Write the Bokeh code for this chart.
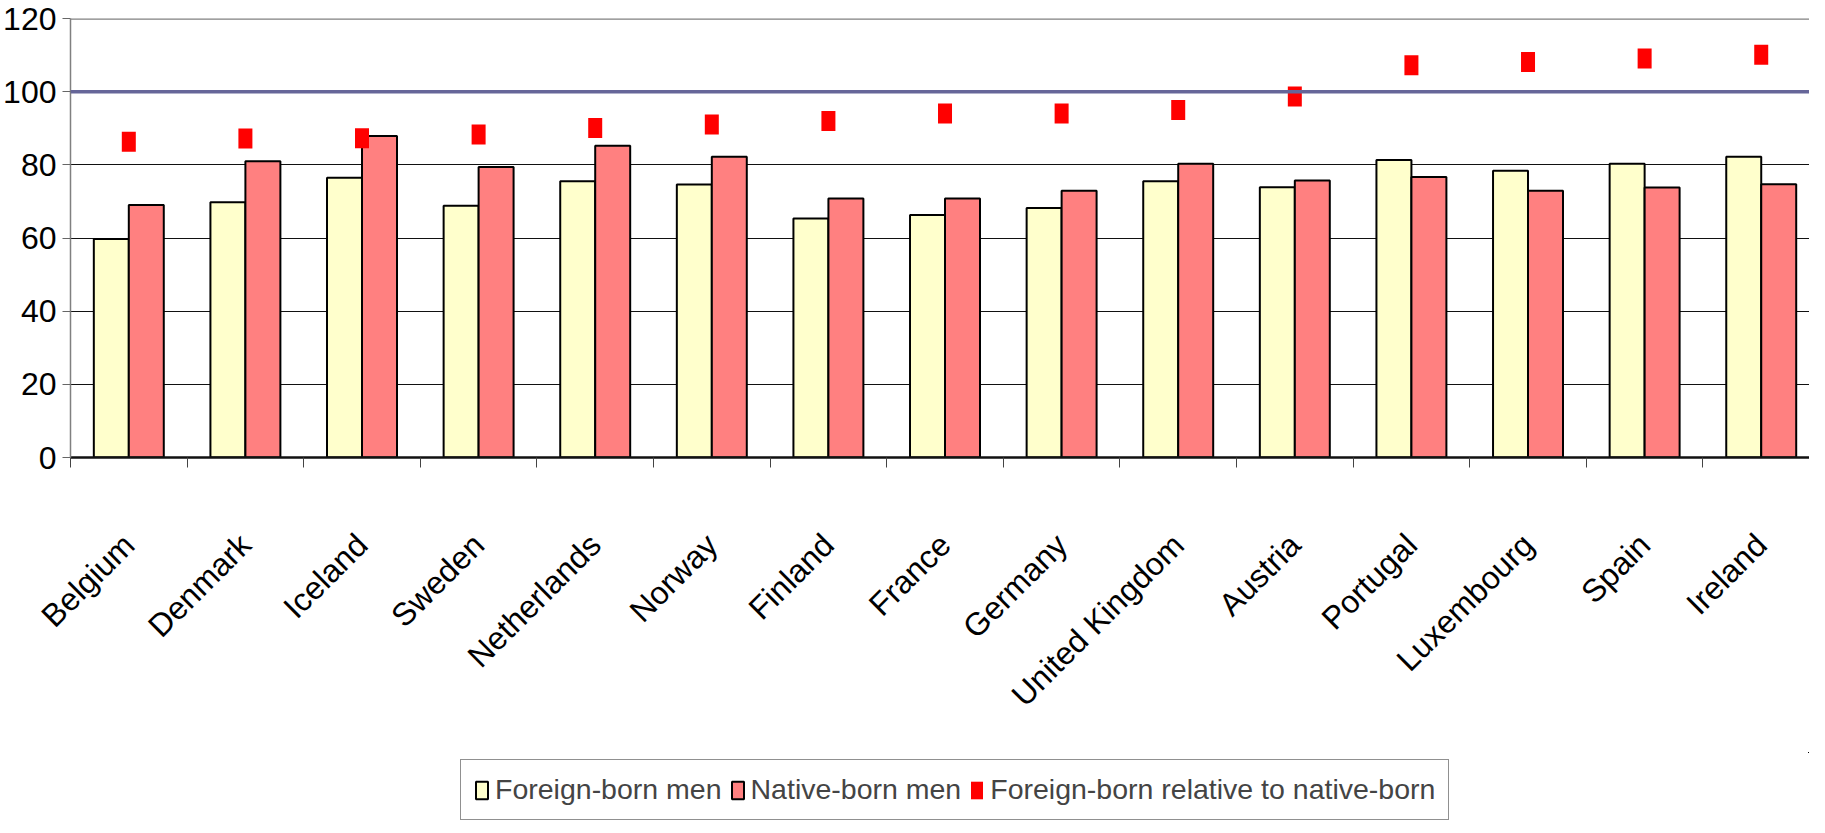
import numpy as np
from bokeh.plotting import figure
from bokeh.layouts import column
from bokeh.models import (Range1d, FixedTicker, Span, Legend, LegendItem,
                          ColumnDataSource)
from bokeh.embed import file_html
from bokeh.resources import INLINE

countries = ["Belgium", "Denmark", "Iceland", "Sweden", "Netherlands", "Norway",
             "Finland", "France", "Germany", "United Kingdom", "Austria",
             "Portugal", "Luxembourg", "Spain", "Ireland"]
foreign_born_men = [59.7, 69.8, 76.5, 68.8, 75.5, 74.6, 65.3, 66.3, 68.2, 75.5,
                    73.9, 81.3, 78.4, 80.3, 82.2]
native_born_men = [69.0, 81.0, 87.9, 79.4, 85.2, 82.2, 70.8, 70.8, 72.9, 80.3,
                   75.7, 76.7, 72.9, 73.8, 74.7]
relative = [86.3, 87.2, 87.3, 88.3, 90.1, 91.0, 92.0, 94.0, 94.0, 95.0,
            98.7, 107.2, 108.1, 109.1, 110.1]
y_ticks = [0, 20, 40, 60, 80, 100, 120]
parity_level = 100
series_names = ["Foreign-born men", "Native-born men",
                "Foreign-born relative to native-born"]

FONT = "Liberation Sans"
YELLOW, PINK, RED = "#FFFFCC", "#FF8080", "#FF0000"

n = len(countries)
centers = np.arange(n) + 0.5
src = ColumnDataSource(dict(
    x_f=centers - 0.15, x_n=centers + 0.15, x_c=centers,
    foreign=foreign_born_men, native=native_born_men, rel=relative))


def add_series(fig):
    rf = fig.vbar(x="x_f", top="foreign", width=0.3, source=src,
                  fill_color=YELLOW, line_color="black", line_width=2)
    rn = fig.vbar(x="x_n", top="native", width=0.3, source=src,
                  fill_color=PINK, line_color="black", line_width=2)
    rr = fig.rect(x="x_c", y="rel", width=14, height=20, width_units="screen",
                  height_units="screen", source=src, fill_color=RED,
                  line_color=None)
    return rf, rn, rr


# ---------------- main chart ----------------
p = figure(width=1809, height=752, output_backend="svg", toolbar_location=None,
           x_range=Range1d(0, 14.914), y_range=Range1d(0, 120),
           min_border_left=70, min_border_right=0, min_border_top=18,
           min_border_bottom=295, background_fill_color="white",
           border_fill_color="white")
p.outline_line_color = None
p.xgrid.visible = False

p.yaxis.ticker = FixedTicker(ticks=y_ticks, minor_ticks=[])
p.yaxis.major_label_text_font = FONT
p.yaxis.major_label_text_font_size = "32px"
p.yaxis.major_label_text_color = "black"
p.yaxis.major_tick_out = 8
p.yaxis.major_tick_in = 0
p.yaxis.major_tick_line_color = "#666666"
p.yaxis.axis_line_color = "#808080"
p.yaxis.axis_line_width = 1.5
p.yaxis.major_label_standoff = 6
p.ygrid.ticker = FixedTicker(ticks=y_ticks[1:])
p.ygrid.grid_line_color = "#111111"
p.ygrid.grid_line_width = 1

p.xaxis.ticker = FixedTicker(ticks=list(centers), minor_ticks=list(range(n + 1)))
p.xaxis.major_label_overrides = {float(c): name for c, name in zip(centers, countries)}
p.xaxis.major_label_orientation = np.pi / 4
p.xaxis.major_label_text_font = FONT
p.xaxis.major_label_text_font_size = "32px"
p.xaxis.major_label_text_color = "black"
p.xaxis.major_label_standoff = 72
p.xaxis.major_tick_out = 0
p.xaxis.major_tick_in = 0
p.xaxis.minor_tick_out = 10
p.xaxis.minor_tick_in = 0
p.xaxis.minor_tick_line_color = "#444444"
p.xaxis.axis_line_color = "#111111"
p.xaxis.axis_line_width = 2.5

add_series(p)

p.add_layout(Span(location=parity_level, dimension="width",
                  line_color="#666699", line_width=3.5))
p.add_layout(Span(location=y_ticks[-1], dimension="width",
                  line_color="#808080", line_width=2.5))

# ---------------- legend strip ----------------
# the same series again, in a strip whose ranges lie outside all data,
# so that only the legend of this strip is visible
lg = figure(width=1809, height=70, output_backend="svg", toolbar_location=None,
            x_axis_type=None, y_axis_type=None,
            x_range=Range1d(-2, -1), y_range=Range1d(-2, -1),
            min_border_left=70, min_border_right=0, min_border_top=0,
            min_border_bottom=0, background_fill_color="white",
            border_fill_color="white")
lg.outline_line_color = None
lg.grid.visible = False
g_f, g_n, g_r = add_series(lg)

legend = Legend(items=[
    LegendItem(label=series_names[0], renderers=[g_f]),
    LegendItem(label=series_names[1], renderers=[g_n]),
    LegendItem(label=series_names[2], renderers=[g_r]),
], orientation="horizontal", location=(390, 2))
legend.label_text_font = FONT
legend.label_text_font_size = "28.5px"
legend.label_standoff = 6
legend.spacing = 8
legend.glyph_width = 15
legend.glyph_height = 22
legend.padding = 13
legend.margin = 0
legend.border_line_color = "#222222"
legend.border_line_width = 1
legend.background_fill_color = "white"
legend.background_fill_alpha = 1
lg.add_layout(legend, "center")

layout = column(p, lg, spacing=0)
open("out.html", "w").write(file_html(layout, INLINE))
